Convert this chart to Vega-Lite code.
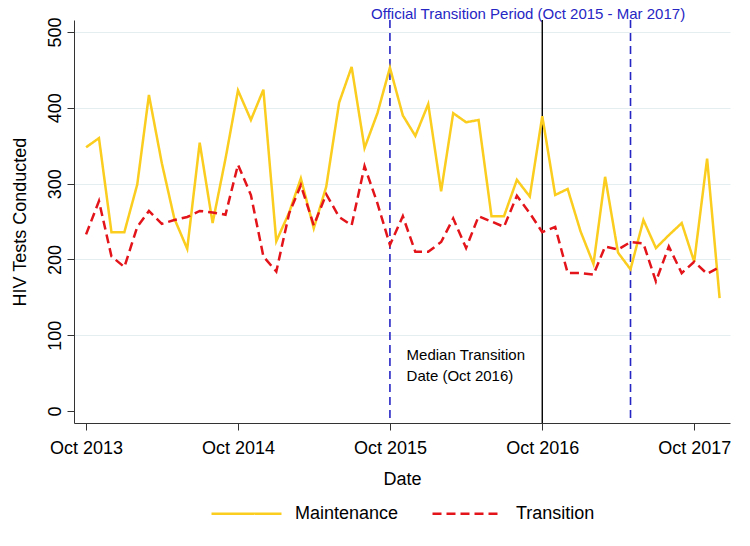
{
  "$schema": "https://vega.github.io/schema/vega-lite/v6.json",
  "width": 656,
  "height": 403,
  "autosize": {"type": "none"},
  "padding": {"left": 74, "top": 20, "right": 20, "bottom": 123},
  "background": "white",
  "config": {
    "font": "Liberation Sans",
    "view": {"stroke": null},
    "legend": {"layout": {"bottom": {"anchor": "middle"}}}
  },
  "datasets": {
    "series": [
      {"date": "2013-10-01", "series": "Maintenance", "value": 348},
      {"date": "2013-11-01", "series": "Maintenance", "value": 360},
      {"date": "2013-12-01", "series": "Maintenance", "value": 236},
      {"date": "2014-01-01", "series": "Maintenance", "value": 236},
      {"date": "2014-02-01", "series": "Maintenance", "value": 299},
      {"date": "2014-03-01", "series": "Maintenance", "value": 417},
      {"date": "2014-04-01", "series": "Maintenance", "value": 327},
      {"date": "2014-05-01", "series": "Maintenance", "value": 254},
      {"date": "2014-06-01", "series": "Maintenance", "value": 214},
      {"date": "2014-07-01", "series": "Maintenance", "value": 354},
      {"date": "2014-08-01", "series": "Maintenance", "value": 248},
      {"date": "2014-09-01", "series": "Maintenance", "value": 333},
      {"date": "2014-10-01", "series": "Maintenance", "value": 423},
      {"date": "2014-11-01", "series": "Maintenance", "value": 384},
      {"date": "2014-12-01", "series": "Maintenance", "value": 424},
      {"date": "2015-01-01", "series": "Maintenance", "value": 224},
      {"date": "2015-02-01", "series": "Maintenance", "value": 262},
      {"date": "2015-03-01", "series": "Maintenance", "value": 307},
      {"date": "2015-04-01", "series": "Maintenance", "value": 241},
      {"date": "2015-05-01", "series": "Maintenance", "value": 296},
      {"date": "2015-06-01", "series": "Maintenance", "value": 407},
      {"date": "2015-07-01", "series": "Maintenance", "value": 454},
      {"date": "2015-08-01", "series": "Maintenance", "value": 347},
      {"date": "2015-09-01", "series": "Maintenance", "value": 393},
      {"date": "2015-10-01", "series": "Maintenance", "value": 453},
      {"date": "2015-11-01", "series": "Maintenance", "value": 390},
      {"date": "2015-12-01", "series": "Maintenance", "value": 363},
      {"date": "2016-01-01", "series": "Maintenance", "value": 405},
      {"date": "2016-02-01", "series": "Maintenance", "value": 290},
      {"date": "2016-03-01", "series": "Maintenance", "value": 393},
      {"date": "2016-04-01", "series": "Maintenance", "value": 381},
      {"date": "2016-05-01", "series": "Maintenance", "value": 384},
      {"date": "2016-06-01", "series": "Maintenance", "value": 257},
      {"date": "2016-07-01", "series": "Maintenance", "value": 257},
      {"date": "2016-08-01", "series": "Maintenance", "value": 305},
      {"date": "2016-09-01", "series": "Maintenance", "value": 283},
      {"date": "2016-10-01", "series": "Maintenance", "value": 389},
      {"date": "2016-11-01", "series": "Maintenance", "value": 285},
      {"date": "2016-12-01", "series": "Maintenance", "value": 293},
      {"date": "2017-01-01", "series": "Maintenance", "value": 237},
      {"date": "2017-02-01", "series": "Maintenance", "value": 194},
      {"date": "2017-03-01", "series": "Maintenance", "value": 309},
      {"date": "2017-04-01", "series": "Maintenance", "value": 209},
      {"date": "2017-05-01", "series": "Maintenance", "value": 187},
      {"date": "2017-06-01", "series": "Maintenance", "value": 252},
      {"date": "2017-07-01", "series": "Maintenance", "value": 215},
      {"date": "2017-08-01", "series": "Maintenance", "value": 232},
      {"date": "2017-09-01", "series": "Maintenance", "value": 248},
      {"date": "2017-10-01", "series": "Maintenance", "value": 197},
      {"date": "2017-11-01", "series": "Maintenance", "value": 333},
      {"date": "2017-12-01", "series": "Maintenance", "value": 149},
      {"date": "2013-10-01", "series": "Transition", "value": 233},
      {"date": "2013-11-01", "series": "Transition", "value": 277},
      {"date": "2013-12-01", "series": "Transition", "value": 204},
      {"date": "2014-01-01", "series": "Transition", "value": 190},
      {"date": "2014-02-01", "series": "Transition", "value": 243},
      {"date": "2014-03-01", "series": "Transition", "value": 264},
      {"date": "2014-04-01", "series": "Transition", "value": 247},
      {"date": "2014-05-01", "series": "Transition", "value": 252},
      {"date": "2014-06-01", "series": "Transition", "value": 256},
      {"date": "2014-07-01", "series": "Transition", "value": 264},
      {"date": "2014-08-01", "series": "Transition", "value": 262},
      {"date": "2014-09-01", "series": "Transition", "value": 259},
      {"date": "2014-10-01", "series": "Transition", "value": 325},
      {"date": "2014-11-01", "series": "Transition", "value": 285},
      {"date": "2014-12-01", "series": "Transition", "value": 204},
      {"date": "2015-01-01", "series": "Transition", "value": 184},
      {"date": "2015-02-01", "series": "Transition", "value": 261},
      {"date": "2015-03-01", "series": "Transition", "value": 298},
      {"date": "2015-04-01", "series": "Transition", "value": 245},
      {"date": "2015-05-01", "series": "Transition", "value": 286},
      {"date": "2015-06-01", "series": "Transition", "value": 256},
      {"date": "2015-07-01", "series": "Transition", "value": 245},
      {"date": "2015-08-01", "series": "Transition", "value": 323},
      {"date": "2015-09-01", "series": "Transition", "value": 274},
      {"date": "2015-10-01", "series": "Transition", "value": 219},
      {"date": "2015-11-01", "series": "Transition", "value": 257},
      {"date": "2015-12-01", "series": "Transition", "value": 210},
      {"date": "2016-01-01", "series": "Transition", "value": 210},
      {"date": "2016-02-01", "series": "Transition", "value": 223},
      {"date": "2016-03-01", "series": "Transition", "value": 254},
      {"date": "2016-04-01", "series": "Transition", "value": 215},
      {"date": "2016-05-01", "series": "Transition", "value": 257},
      {"date": "2016-06-01", "series": "Transition", "value": 250},
      {"date": "2016-07-01", "series": "Transition", "value": 243},
      {"date": "2016-08-01", "series": "Transition", "value": 284},
      {"date": "2016-09-01", "series": "Transition", "value": 261},
      {"date": "2016-10-01", "series": "Transition", "value": 236},
      {"date": "2016-11-01", "series": "Transition", "value": 243},
      {"date": "2016-12-01", "series": "Transition", "value": 182},
      {"date": "2017-01-01", "series": "Transition", "value": 182},
      {"date": "2017-02-01", "series": "Transition", "value": 180},
      {"date": "2017-03-01", "series": "Transition", "value": 217},
      {"date": "2017-04-01", "series": "Transition", "value": 213},
      {"date": "2017-05-01", "series": "Transition", "value": 223},
      {"date": "2017-06-01", "series": "Transition", "value": 221},
      {"date": "2017-07-01", "series": "Transition", "value": 171},
      {"date": "2017-08-01", "series": "Transition", "value": 217},
      {"date": "2017-09-01", "series": "Transition", "value": 182},
      {"date": "2017-10-01", "series": "Transition", "value": 197},
      {"date": "2017-11-01", "series": "Transition", "value": 181},
      {"date": "2017-12-01", "series": "Transition", "value": 190}
    ],
    "bluelines": [
      {"date": "2015-10-01"},
      {"date": "2017-05-01"}
    ],
    "blackline": [
      {"date": "2016-10-01"}
    ],
    "toptext": [
      {"date": "2016-08-28", "value": 524, "label": "Official Transition Period (Oct 2015 - Mar 2017)"}
    ],
    "midtext": [
      {"date": "2015-11-10", "value": 74, "label": "Median Transition\nDate (Oct 2016)"}
    ]
  },
  "encoding": {
    "x": {
      "field": "date",
      "type": "temporal",
      "scale": {"domain": [1378080000000, 1514246400000], "nice": false},
      "axis": {
        "values": [1380585600000, 1412121600000, 1443657600000, 1475280000000, 1506816000000],
        "labelExpr": "utcFormat(datum.value, '%b %Y')",
        "labelFontSize": 18,
        "labelColor": "black",
        "labelPadding": 9,
        "labelFlush": false,
        "labelOverlap": false,
        "tickSize": 7,
        "tickColor": "#333333",
        "domainColor": "#333333",
        "grid": false,
        "title": "Date",
        "titleFontSize": 18,
        "titleFontWeight": "normal",
        "titleColor": "black",
        "titlePadding": 13
      }
    }
  },
  "layer": [
    {
      "data": {"name": "bluelines"},
      "mark": {"type": "rule", "color": "#2626C4", "strokeWidth": 1.6, "strokeDash": [8, 5]}
    },
    {
      "data": {"name": "blackline"},
      "mark": {"type": "rule", "color": "black", "strokeWidth": 1.4}
    },
    {
      "data": {"name": "series"},
      "mark": {"type": "line", "strokeWidth": 2.5},
      "encoding": {
        "y": {
          "field": "value",
          "type": "quantitative",
          "scale": {"domain": [-15.8, 515.9], "nice": false, "zero": false},
          "axis": {
            "values": [0, 100, 200, 300, 400, 500],
            "labelAngle": 270,
            "labelAlign": "center",
            "labelBaseline": "alphabetic",
            "labelFontSize": 18,
            "labelColor": "black",
            "labelPadding": 7,
            "tickSize": 7,
            "tickColor": "#333333",
            "domainColor": "#333333",
            "grid": true,
            "gridColor": {"condition": {"test": "datum.value === 0", "value": "transparent"}, "value": "#E4EDF0"},
            "title": "HIV Tests Conducted",
            "titleFontSize": 18,
            "titleFontWeight": "normal",
            "titleColor": "black",
            "titlePadding": 17
          }
        },
        "color": {
          "field": "series",
          "type": "nominal",
          "scale": {"domain": ["Maintenance", "Transition"], "range": ["#FACD1E", "#E3141A"]},
          "legend": {
            "orient": "bottom",
            "direction": "horizontal",
            "title": null,
            "symbolType": "stroke",
            "symbolSize": 4900,
            "symbolStrokeWidth": 2.5,
            "labelFontSize": 18,
            "labelColor": "black",
            "labelOffset": 12,
            "columnPadding": 28,
            "offset": -11
          }
        },
        "strokeDash": {
          "field": "series",
          "type": "nominal",
          "scale": {"domain": ["Maintenance", "Transition"], "range": [[1, 0], [9, 5]]},
          "legend": {
            "orient": "bottom",
            "direction": "horizontal",
            "title": null,
            "symbolType": "stroke",
            "symbolSize": 4900,
            "symbolStrokeWidth": 2.5,
            "labelFontSize": 18,
            "labelColor": "black",
            "labelOffset": 12,
            "columnPadding": 28,
            "offset": -11
          }
        }
      }
    },
    {
      "data": {"name": "toptext"},
      "mark": {"type": "text", "color": "#2626C4", "fontSize": 15, "align": "center", "baseline": "middle"},
      "encoding": {
        "y": {"field": "value", "type": "quantitative", "title": "HIV Tests Conducted"},
        "text": {"field": "label"}
      }
    },
    {
      "data": {"name": "midtext"},
      "mark": {"type": "text", "color": "black", "fontSize": 15, "align": "left", "baseline": "middle", "lineBreak": "\n", "lineHeight": 21},
      "encoding": {
        "y": {"field": "value", "type": "quantitative", "title": "HIV Tests Conducted"},
        "text": {"field": "label"}
      }
    }
  ]
}
